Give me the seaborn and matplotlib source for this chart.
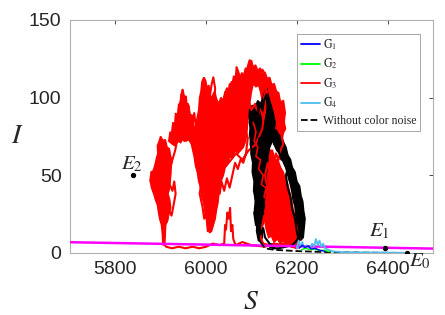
import numpy as np
import pandas as pd
import matplotlib
matplotlib.use("Agg")
import matplotlib.pyplot as plt
import seaborn as sns
from matplotlib.lines import Line2D

# ---------------- data ----------------
# G3 (red) noisy trajectory: individual strands
red_S = [6195, 6170, 6150, 6130, 6100, 6080, 6065, 6060, 6058, 6055, 6053, 6050, 6047, 6044, 6042, 6040,
         6030, 6015, 6000, 5985, 5970, 5955, 5940, 5925, 5912, 5907, 5908, 5904, 5906, 5900, 5897, 5893,
         5890, 5885, 5880, 5878, 5882, 5886, 5890, 5894, 5897, 5900, 5903, 5906, 5910, 5908, 5914, 5918,
         5922, 5920, 5926, 5930, 5933, 5928, 5924, 5918, 5914, 5910, 5906, 5912, 5904, 5898, 5894, 5900,
         5908, 5916, 5922, 5928, 5932, 5936, 5940, 5944, 5942, 5946, 5948, 5952, 5956, 5960, 5964, 5968,
         5964, 5958, 5952, 5948, 5956, 5962, 5970, 5974, 5978, 5982, 5986, 5984, 5990, 5986, 5992, 5996,
         6000, 6004, 6008, 6006, 6012, 6010, 6016, 6012, 6018, 6014, 6006, 6000, 5994, 5988, 5994, 6000,
         6004, 6008, 6012, 6016, 6020, 6018, 6024, 6022, 6028, 6026, 6032, 6036, 6040, 6034, 6040, 6046,
         6052, 6056, 6062, 6066, 6072, 6078, 6084, 6090, 6096, 6100, 6106, 6112, 6118, 6124, 6130, 6134,
         6128, 6132, 6126, 6120, 6114, 6108, 6100, 6094, 6088, 6084, 6078, 6072, 6066, 6060, 6054, 6048,
         6044, 6050, 6056, 6062, 6068, 6074, 6080, 6086, 6092, 6088, 6082, 6076, 6070, 6064, 6058, 6052,
         6046, 6040, 6034, 6030, 6024, 6020, 6014, 6010, 6020, 6034, 6050, 6066, 6080, 6094, 6110, 6124,
         6134, 6140, 6146, 6150, 6156, 6160, 6166, 6170, 6174, 6168, 6172, 6166, 6170, 6164, 6160, 6154,
         6150, 6144, 6140, 6136, 6130, 6134, 6128, 6134, 6140, 6146, 6150, 6156, 6160, 6166, 6170, 6176,
         6180, 6174, 6178, 6184, 6190, 6196, 6200, 6204, 6206, 6198, 6190, 6184, 6176, 6170, 6164, 6158,
         6150, 6144, 6140, 6134, 6128, 6124, 6120, 6126, 6140, 6150, 6160, 6170, 6180, 6190, 6200]
red_I = [4, 5, 6, 4, 5, 7, 5, 9, 18, 14, 29, 22, 26, 15, 18, 6,
         5, 6, 4, 3, 4, 3, 4, 3, 4, 6, 12, 18, 26, 24, 32, 38,
         36, 44, 48, 46, 52, 50, 58, 55, 64, 70, 73, 66, 68, 58, 54, 60,
         52, 44, 40, 46, 38, 30, 24, 28, 20, 26, 38, 44, 48, 44, 50, 56,
         50, 48, 56, 62, 66, 72, 80, 88, 95, 100, 105, 98, 92, 96, 88, 84,
         76, 80, 72, 78, 84, 78, 82, 90, 80, 70, 62, 52, 46, 38, 30, 22,
         26, 14, 20, 30, 36, 46, 52, 60, 66, 74, 70, 78, 72, 80, 88, 84,
         94, 100, 108, 113, 106, 96, 90, 80, 74, 64, 70, 78, 86, 92, 100, 106,
         100, 110, 104, 112, 106, 114, 110, 118, 124, 116, 120, 118, 114, 118, 115, 108,
         100, 92, 86, 94, 88, 96, 92, 98, 104, 96, 100, 92, 96, 88, 92, 84,
         76, 70, 76, 68, 74, 66, 72, 80, 74, 64, 58, 60, 54, 58, 50, 42,
         48, 40, 46, 38, 44, 34, 40, 30, 56, 62, 58, 64, 60, 66, 70, 80,
         104, 104, 98, 102, 96, 100, 94, 98, 90, 86, 80, 76, 70, 66, 60, 64,
         56, 60, 52, 58, 50, 42, 36, 30, 38, 30, 40, 34, 44, 38, 46, 40,
         30, 24, 16, 22, 14, 20, 12, 18, 8, 6, 10, 6, 12, 8, 16, 10,
         18, 12, 22, 16, 24, 18, 10, 6, 5, 6, 5, 6, 5, 4, 3]

# G3 (red): densely covered areas (outlines)
red_up_S = [5918, 5921, 5924, 5927, 5931, 5933, 5937, 5940, 5943, 5945, 5949, 5952, 5956, 5958, 5962, 5965,
            5969, 5972, 5976, 5980, 5984, 5986, 5989, 5991, 5995, 5999, 6002, 6006, 6010, 6014, 6019, 6023,
            6028, 6033, 6038, 6042, 6048, 6052, 6057, 6061, 6065, 6067, 6071, 6075, 6079, 6083, 6087, 6092,
            6096, 6100, 6104, 6109, 6114, 6119, 6124, 6130, 6135, 6140, 6145, 6150, 6155, 6160, 6163, 6168,
            6171, 6174, 6172, 6175, 6170, 6167, 6162, 6158, 6152, 6146, 6140, 6134, 6130, 6124, 6120, 6116,
            6110, 6104, 6100, 6097, 6094, 6092, 6090, 6087, 6082, 6076, 6070, 6064, 6058, 6052, 6048, 6042,
            6038, 6034, 6031, 6028, 6026, 6023, 6020, 6016, 6012, 6008, 6004, 6002, 5998, 5995, 5991, 5988,
            5984, 5981, 5977, 5974, 5971, 5968, 5962, 5956, 5950, 5944, 5938, 5932, 5926]
red_up_I = [72, 78, 76, 84, 82, 90, 88, 96, 95, 102, 105, 100, 101, 94, 95, 88,
            89, 82, 80, 86, 92, 100, 104, 110, 113, 111, 106, 108, 100, 101, 104, 99,
            96, 100, 98, 104, 102, 109, 107, 114, 112, 120, 117, 113, 116, 114, 119, 118,
            123, 124, 119, 121, 117, 119, 115, 116, 112, 113, 108, 109, 104, 103, 98, 97,
            92, 90, 84, 80, 77, 72, 70, 74, 76, 80, 86, 88, 94, 98, 104, 108,
            107, 109, 104, 98, 92, 86, 78, 72, 68, 66, 64, 66, 61, 62, 57, 55,
            50, 47, 42, 38, 32, 28, 22, 18, 14, 13, 16, 22, 26, 32, 36, 42,
            46, 52, 56, 62, 66, 70, 73, 72, 74, 71, 72, 69, 70]
red_left_S = [5900, 5905, 5910, 5914, 5919, 5922, 5925, 5923, 5921, 5918, 5919, 5916, 5920, 5922, 5918, 5915,
              5911, 5910, 5909, 5905, 5904, 5902, 5898, 5895, 5893, 5889, 5885, 5880, 5877, 5879, 5884, 5888,
              5891, 5894, 5893, 5897]
red_left_I = [75, 72, 73, 68, 67, 62, 60, 55, 50, 46, 41, 38, 34, 29, 25, 21,
              18, 12, 6, 5, 12, 18, 22, 27, 31, 34, 38, 42, 47, 52, 53, 57,
              61, 64, 69, 72]
red_rr_S = [6128, 6134, 6140, 6146, 6152, 6158, 6164, 6170, 6176, 6180, 6185, 6188, 6192, 6196, 6199, 6203,
            6203, 6196, 6190, 6184, 6177, 6170, 6164, 6157, 6150, 6144, 6138, 6133, 6130, 6127, 6129, 6126,
            6128, 6125, 6128, 6126]
red_rr_I = [72, 70, 66, 66, 60, 60, 55, 52, 46, 44, 38, 34, 28, 22, 16, 10,
            5, 6, 4, 7, 5, 8, 6, 9, 7, 11, 10, 15, 20, 26, 32, 38,
            45, 52, 58, 65]

# black noisy trajectory
black_S = [6150, 6140, 6130, 6126, 6120, 6116, 6110, 6106, 6112, 6108, 6114, 6110, 6104, 6108, 6102, 6098,
           6100, 6096, 6100, 6104, 6108, 6114, 6118, 6124, 6128, 6133, 6136, 6132, 6138, 6134, 6128, 6122,
           6118, 6112, 6116, 6122, 6126, 6120, 6124, 6130, 6128, 6122, 6118, 6114, 6112, 6116, 6124, 6132,
           6140, 6146, 6150, 6156, 6160, 6166, 6170, 6176, 6180, 6184, 6188, 6192, 6196, 6198, 6202, 6206,
           6208, 6212, 6210, 6204, 6200, 6196, 6190, 6186, 6180, 6176, 6182, 6188, 6194, 6200, 6204, 6206,
           6200, 6190, 6176, 6160, 6148, 6140]
black_I = [4, 6, 10, 16, 12, 20, 18, 26, 30, 36, 40, 48, 52, 58, 64, 70,
           78, 84, 90, 86, 92, 88, 96, 92, 98, 102, 94, 86, 80, 72, 76, 68,
           74, 66, 58, 62, 54, 48, 40, 44, 34, 28, 22, 28, 14, 8, 60, 76,
           84, 78, 70, 74, 66, 60, 64, 56, 50, 54, 46, 40, 44, 34, 28, 32,
           24, 18, 12, 8, 14, 22, 28, 36, 42, 50, 56, 48, 40, 30, 20, 12,
           8, 5, 4, 3, 3, 4]
black_l_S = [6096, 6102, 6108, 6114, 6120, 6126, 6130, 6134, 6138, 6142, 6148, 6152, 6150, 6146, 6140, 6136,
             6136, 6132, 6133, 6129, 6130, 6126, 6127, 6123, 6124, 6119, 6115, 6112, 6110, 6107, 6109, 6105,
             6106, 6102, 6103, 6099, 6100, 6096, 6098, 6095]
black_l_I = [92, 95, 93, 98, 96, 100, 104, 106, 100, 96, 90, 84, 78, 72, 68, 62,
             56, 50, 44, 38, 32, 27, 21, 16, 10, 7, 11, 16, 22, 28, 34, 40,
             46, 52, 58, 64, 70, 76, 82, 87]
black_r_S = [6142, 6148, 6154, 6160, 6166, 6171, 6176, 6180, 6186, 6190, 6196, 6200, 6206, 6209, 6213, 6215,
             6218, 6216, 6214, 6208, 6204, 6201, 6198, 6196, 6192, 6189, 6186, 6182, 6179, 6174, 6168, 6162,
             6156, 6150, 6144]
black_r_I = [80, 78, 79, 76, 75, 71, 68, 63, 60, 55, 52, 46, 43, 37, 33, 27,
             22, 16, 10, 8, 12, 18, 24, 30, 34, 40, 44, 48, 53, 56, 60, 64,
             66, 70, 74]

# red strand crossing the black cloud
red_x_S = [6104, 6110, 6106, 6114, 6110, 6120, 6116, 6126, 6122, 6132, 6128, 6138, 6134, 6142, 6138, 6146]
red_x_I = [84, 78, 72, 68, 62, 60, 54, 50, 44, 42, 36, 34, 28, 26, 20, 18]

det_S = [6120, 6130, 6150, 6200, 6250, 6300, 6350, 6400, 6442]
det_I = [7.0, 3.0, 2.0, 1.2, 0.7, 0.4, 0.2, 0.1, 0.0]

g1_S = [6205, 6212, 6218, 6225, 6232, 6240, 6250, 6262]
g1_I = [3.0, 5.0, 3.5, 4.5, 2.5, 3.0, 1.8, 1.0]
g2_S = [6210, 6220, 6230, 6240, 6250, 6260, 6272]
g2_I = [2.0, 3.0, 2.0, 2.5, 1.5, 1.8, 0.8]
g4_S = [6200, 6204, 6208, 6212, 6216, 6222, 6228, 6234, 6238, 6242, 6246, 6250, 6254, 6258,
        6262, 6270, 6280, 6300, 6350, 6400, 6442]
g4_I = [3, 8, 4, 7, 3, 5, 3, 6, 4, 9, 5, 8, 4, 6,
        3, 2, 1, 0.5, 0.3, 0.2, 0.1]

null_S = [5700, 6500]
null_I = [6.9, 2.8]

eq_S = [6442, 6395, 5840]
eq_I = [0.0, 3.0, 50.0]

# ---------------- figure ----------------
sns.set_theme(style="white")
plt.rcParams["font.family"] = ["Liberation Sans", "DejaVu Sans"]
plt.rcParams["mathtext.fontset"] = "stix"

fig = plt.figure(figsize=(4.45, 3.15), dpi=100)
ax = fig.add_axes([0.157, 0.197, 0.816, 0.740])

def path(x, y, **kw):
    df = pd.DataFrame({"S": x, "I": y})
    sns.lineplot(data=df, x="S", y="I", sort=False, estimator=None, ax=ax, **kw)

RED = "#ff0000"
for xs, ys in [(red_up_S, red_up_I), (red_left_S, red_left_I), (red_rr_S, red_rr_I)]:
    ax.fill(xs, ys, color=RED, lw=1.2, ec=RED, zorder=1)
for xs, ys in [(black_l_S, black_l_I), (black_r_S, black_r_I)]:
    ax.fill(xs, ys, color="black", lw=1.2, ec="black", zorder=2)

path(red_S, red_I, color=RED, lw=1.5, zorder=3)
path(black_S, black_I, color="black", lw=1.5, zorder=4)
path(red_x_S, red_x_I, color=RED, lw=1.2, zorder=4)
path(null_S, null_I, color="#ff00ff", lw=1.8, zorder=5)
path(det_S, det_I, color="black", lw=1.3, linestyle="--", zorder=5)
path(g4_S, g4_I, color="#4dbeee", lw=1.3, zorder=6)
path(g2_S, g2_I, color="#00ff00", lw=1.0, zorder=6)
path(g1_S, g1_I, color="#0000ff", lw=1.0, zorder=6)

ax.scatter(eq_S, eq_I, s=8, color="black", zorder=7)
ax.text(eq_S[0] + 5, eq_I[0] + 1.0, r"$E_0$", fontsize=15, va="top", ha="left")
ax.text(eq_S[1] - 14, eq_I[1] + 5, r"$E_1$", fontsize=15, va="bottom", ha="center")
ax.text(eq_S[2] - 4, eq_I[2] + 1, r"$E_2$", fontsize=15, va="bottom", ha="center")

ax.set_xlim(5700, 6500)
ax.set_ylim(0, 150)
ax.set_xticks([5800, 6000, 6200, 6400])
ax.set_yticks([0, 50, 100, 150])
ax.tick_params(direction="in", length=3, width=0.6, top=True, right=True,
               labelsize=14, colors="#262626", pad=6)
for sp in ax.spines.values():
    sp.set_color("#b0b0b0")
    sp.set_linewidth(0.8)
ax.set_xlabel(r"$S$", fontsize=20, labelpad=8)
ax.set_ylabel(r"$I$", fontsize=20, rotation=0, labelpad=8, va="center")

handles = [Line2D([], [], color="#0000ff", lw=1.3),
           Line2D([], [], color="#00ff00", lw=1.3),
           Line2D([], [], color="#ff0000", lw=1.3),
           Line2D([], [], color="#4dbeee", lw=1.3),
           Line2D([], [], color="black", lw=1.3, linestyle="--")]
labels = [r"$\mathrm{G}_1$", r"$\mathrm{G}_2$", r"$\mathrm{G}_3$", r"$\mathrm{G}_4$",
          "Without color noise"]
leg = ax.legend(handles, labels, loc="upper right", bbox_to_anchor=(0.97, 0.95),
                frameon=True, fancybox=False, handlelength=1.6,
                handletextpad=0.25, labelspacing=0.42, borderpad=0.3, borderaxespad=0.2,
                prop={"family": ["Liberation Serif", "DejaVu Serif"], "size": 8.5})
leg.get_frame().set_edgecolor("#909090")
leg.get_frame().set_linewidth(0.7)
leg.set_zorder(10)

fig.savefig("out.png", dpi=100)
